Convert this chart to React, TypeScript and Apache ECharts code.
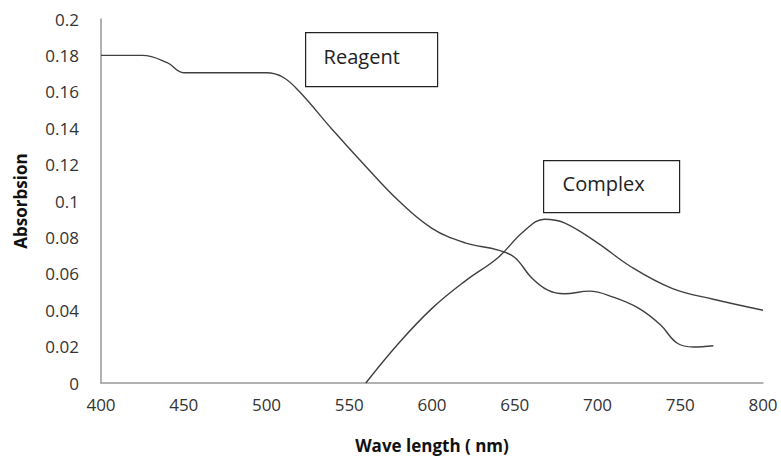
import React, { useEffect, useRef } from "react";
import * as echarts from "echarts";

const reagentX = [400, 425, 440, 450, 500, 510, 520, 540, 560, 580, 600, 620, 640, 650, 660, 670, 680, 695, 710, 725, 738, 748, 758, 770];
const reagentY = [0.18, 0.18, 0.176, 0.1705, 0.1705, 0.168, 0.16, 0.139, 0.119, 0.1, 0.085, 0.077, 0.073, 0.069, 0.058, 0.051, 0.049, 0.0505, 0.047, 0.041, 0.032, 0.022, 0.0198, 0.0205];

const complexX = [560, 580, 600, 620, 640, 655, 668, 680, 700, 720, 745, 770, 800];
const complexY = [0, 0.022, 0.041, 0.056, 0.069, 0.083, 0.09, 0.088, 0.077, 0.064, 0.052, 0.046, 0.04];

const labels = ["Reagent", "Complex"];

const FONT = "'Open Sans', 'Liberation Sans', sans-serif";

export default function App() {
  const ref = useRef<HTMLDivElement>(null);
  useEffect(() => {
    if (!ref.current) return;
    const chart = echarts.init(ref.current, null, { renderer: "svg" });
    const lineStyle = { color: "#404040", width: 1.4 };
    chart.setOption({
      animation: false,
      grid: { left: 101, right: 18, top: 19, bottom: 74, containLabel: false },
      xAxis: {
        type: "value",
        min: 400,
        max: 800,
        interval: 50,
        name: "Wave length ( nm)",
        nameLocation: "middle",
        nameGap: 54,
        nameTextStyle: { fontFamily: FONT, fontWeight: "bold", fontSize: 17, color: "#111" },
        axisLine: { show: true, lineStyle: { color: "#999", width: 1.5 } },
        axisTick: { show: false },
        splitLine: { show: false },
        axisLabel: { fontFamily: FONT, fontSize: 17, color: "#333", margin: 13 },
      },
      yAxis: {
        type: "value",
        min: 0,
        max: 0.2,
        interval: 0.02,
        name: "Absorbsion",
        nameLocation: "middle",
        nameGap: 72,
        nameTextStyle: { fontFamily: FONT, fontWeight: "bold", fontSize: 17, color: "#111" },
        axisLine: { show: true, lineStyle: { color: "#999", width: 1.5 } },
        axisTick: { show: false },
        splitLine: { show: false },
        axisLabel: { fontFamily: FONT, fontSize: 17, color: "#333", margin: 22 },
      },
      series: [
        {
          name: labels[0],
          type: "line",
          data: reagentX.map((x, i) => [x, reagentY[i]]),
          smooth: 0.4,
          showSymbol: false,
          lineStyle,
        },
        {
          name: labels[1],
          type: "line",
          data: complexX.map((x, i) => [x, complexY[i]]),
          smooth: 0.4,
          showSymbol: false,
          lineStyle,
        },
      ],
      graphic: [
        {
          type: "group",
          left: 305,
          top: 32,
          children: [
            { type: "rect", shape: { x: 0, y: 0, width: 132, height: 54 }, style: { fill: "#fff", stroke: "#222", lineWidth: 1.2 } },
            { type: "text", x: 18, y: 24, style: { text: labels[0], fontFamily: FONT, fontSize: 20, fill: "#222", verticalAlign: "middle" } },
          ],
        },
        {
          type: "group",
          left: 543,
          top: 160,
          children: [
            { type: "rect", shape: { x: 0, y: 0, width: 136, height: 52 }, style: { fill: "#fff", stroke: "#222", lineWidth: 1.2 } },
            { type: "text", x: 19, y: 23, style: { text: labels[1], fontFamily: FONT, fontSize: 20, fill: "#222", verticalAlign: "middle" } },
          ],
        },
      ],
    });
    return () => chart.dispose();
  }, []);
  return <div ref={ref} style={{ width: 781, height: 459, position: "absolute", left: 0, top: 0 }} />;
}
